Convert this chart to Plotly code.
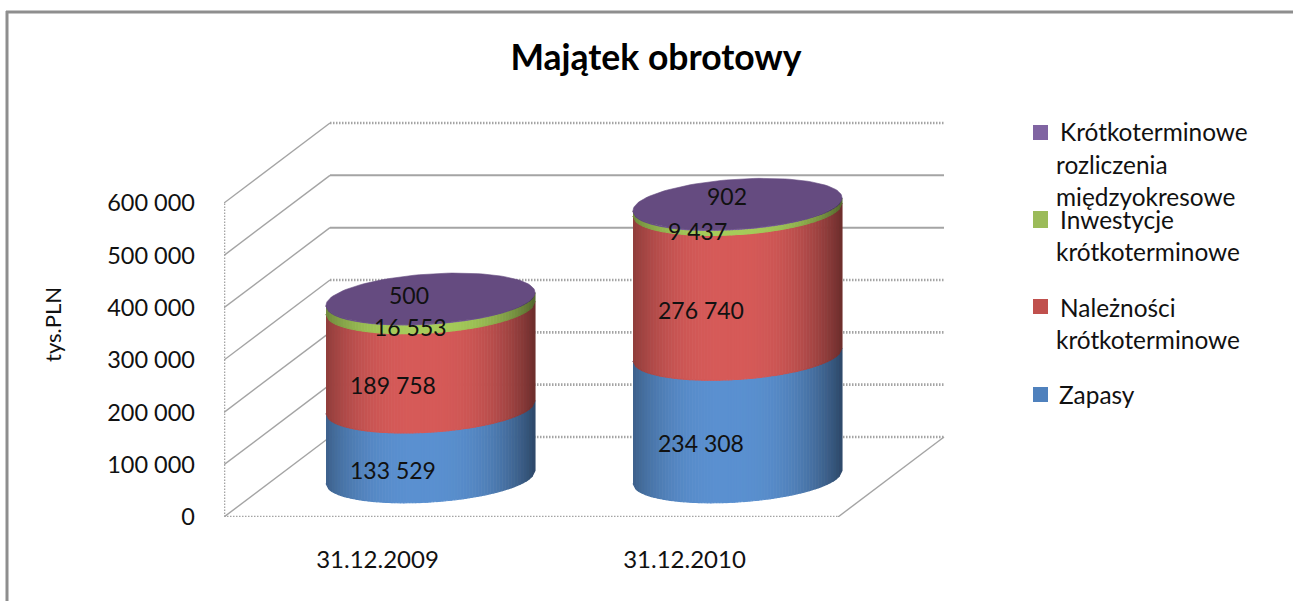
import math
import plotly.graph_objects as go

# ---- data ----
categories = ["31.12.2009", "31.12.2010"]
zapasy = [133529, 234308]
naleznosci = [189758, 276740]
inwestycje = [16553, 9437]
rozliczenia = [500, 902]
y_ticks = [0, 100000, 200000, 300000, 400000, 500000, 600000]
y_tick_labels = ["0", "100 000", "200 000", "300 000", "400 000", "500 000", "600 000"]
data_labels_2009 = ["133 529", "189 758", "16 553", "500"]
data_labels_2010 = ["234 308", "276 740", "9 437", "902"]

series = [zapasy, naleznosci, inwestycje, rozliczenia]
data_labels = [data_labels_2009, data_labels_2010]

# ---- style / layout ----
W, H = 1293, 601
L, R, T, B = 224, 946, 120, 517       # plot area in page pixels
PX_PER_CAT = 307.0
PX_PER_VAL = 52.33 / 100000.0
XMIN = -0.5
XMAX = XMIN + (R - L) / PX_PER_CAT
YMAX = (B - T) / PX_PER_VAL

DEPTH_X = 106 / PX_PER_CAT            # floor depth in axis units
DEPTH_Y = 80 / PX_PER_VAL
RAD_X = 104.5 / PX_PER_CAT            # cylinder radii
RAD_Y = 25 / PX_PER_VAL
SHEAR = 6.5 / PX_PER_VAL
N_STRIPS = 70

FONT = "Lato"
INK = "#111111"
BASE_COL = ["#5A90D0", "#D65A58", "#A6CC5A", "#7E5FA6"]
TOP_COL = "#654B80"
GRID = "#A4A4A4"
DOT = "1.5px,1.5px"


def shade(hex_col, u):
    f = 1 - 0.50 * min(1.0, abs(u + 0.08) / 1.08) ** 2.6
    r, g, b = (int(hex_col[i:i + 2], 16) for i in (1, 3, 5))
    return f"rgb({r * f:.0f},{g * f:.0f},{b * f:.0f})"


fig = go.Figure()


def line(xs, ys, width=1.5, dash="solid"):
    fig.add_trace(go.Scatter(x=xs, y=ys, mode="lines", hoverinfo="skip",
                             line=dict(color=GRID, width=width, dash=dash)))


xf_l, xf_r = XMIN, XMIN + 2          # front floor edge
for v in y_ticks:
    line([xf_l, xf_l + DEPTH_X], [v, v + DEPTH_Y], 1.4)           # side wall diagonal
    solid = v in (400000, 500000)
    line([xf_l + DEPTH_X, xf_r + DEPTH_X], [v + DEPTH_Y, v + DEPTH_Y],
         2 if solid else 2.6, "solid" if solid else DOT)          # back wall line
line([xf_l, xf_l], [y_ticks[0], y_ticks[-1]], 2.6, DOT)           # side wall front edge
line([xf_l, xf_r], [0, 0], 2.6, DOT)                              # floor front edge
line([xf_r, xf_r + DEPTH_X], [0, DEPTH_Y], 1.4)                   # floor right edge

# ---- cylinders ----
for c in range(len(categories)):
    cx = c + 0.5 * DEPTH_X
    base = 0.5 * DEPTH_Y
    cum = 0
    for s, vals in enumerate(series):
        v0, v1 = cum, cum + vals[c]
        cum = v1
        for i in range(N_STRIPS):
            ua = -1 + 2 * i / N_STRIPS
            ub = -1 + 2 * (i + 1) / N_STRIPS
            edge = lambda u, v: base + v + SHEAR * u - RAD_Y * math.sqrt(max(0, 1 - u * u))
            col = shade(BASE_COL[s], (ua + ub) / 2)
            fig.add_trace(go.Scatter(
                x=[cx + RAD_X * ua, cx + RAD_X * ub, cx + RAD_X * ub, cx + RAD_X * ua],
                y=[edge(ua, v0), edge(ub, v0), edge(ub, v1), edge(ua, v1)],
                mode="lines", fill="toself", fillcolor=col, hoverinfo="skip",
                line=dict(color=col, width=1.1)))
    ts = [2 * math.pi * k / 120 for k in range(121)]
    fig.add_trace(go.Scatter(
        x=[cx + RAD_X * math.cos(t) for t in ts],
        y=[base + cum + SHEAR * math.cos(t) + RAD_Y * math.sin(t) for t in ts],
        mode="lines", fill="toself", fillcolor=TOP_COL, hoverinfo="skip",
        line=dict(color=TOP_COL, width=0.6)))

# ---- data labels ----
annotations = []
label_shift = [
    [(-38, -28), (-38, -28), (-20, -24), (-22, 4)],
    [(-37, -27), (-37, -28), (-40, -24), (-11, 8)],
]
for c in range(len(categories)):
    cum = 0
    for s, vals in enumerate(series):
        mid = cum + vals[c] / 2
        cum += vals[c]
        dx, dy = label_shift[c][s]
        annotations.append(dict(
            x=c + 0.5 * DEPTH_X, y=0.5 * DEPTH_Y + mid, xref="x", yref="y",
            text=data_labels[c][s], showarrow=False, xshift=dx, yshift=dy,
            xanchor="center", yanchor="middle",
            font=dict(family=FONT, size=23, color=INK)))


def px(x):
    return (x - L) / (R - L)


def py(y):
    return (B - y) / (B - T)


# ---- legend ----
legend_lines = [
    ("Krótkoterminowe", 1058, 132), ("rozliczenia", 1054, 164), ("międzyokresowe", 1054, 196),
    ("Inwestycje", 1058, 219), ("krótkoterminowe", 1054, 251),
    ("Należności", 1058, 307), ("krótkoterminowe", 1054, 339),
    ("Zapasy", 1057, 395),
]
for txt, x, y in legend_lines:
    annotations.append(dict(x=px(x), y=py(y), xref="paper", yref="paper", text=txt,
                            showarrow=False, xanchor="left", yanchor="middle",
                            font=dict(family=FONT, size=24.4, color=INK)))
annotations.append(dict(x=px(52), y=py(325), xref="paper", yref="paper", text="tys.PLN",
                        textangle=-90, showarrow=False, xanchor="center", yanchor="middle",
                        font=dict(family=FONT, size=22, color=INK)))

shapes = []
for col, y0, y1 in [("#8064A2", 125, 140), ("#9BBB59", 211, 228),
                    ("#C0504D", 299, 314), ("#4F81BD", 387, 402)]:
    shapes.append(dict(type="rect", xref="paper", yref="paper", x0=px(1033), x1=px(1048),
                       y0=py(y1), y1=py(y0), fillcolor=col, line=dict(width=0), layer="above"))
shapes.append(dict(type="line", xref="paper", yref="paper", x0=px(7), x1=px(7), y0=py(11), y1=py(601),
                   line=dict(color="#8E8E8E", width=3)))
shapes.append(dict(type="line", xref="paper", yref="paper", x0=px(6), x1=px(1293), y0=py(12), y1=py(12),
                   line=dict(color="#8E8E8E", width=3)))

fig.update_layout(
    width=W, height=H,
    margin=dict(l=L, r=W - R, t=T, b=H - B, autoexpand=False),
    paper_bgcolor="#FFFFFF", plot_bgcolor="rgba(0,0,0,0)",
    showlegend=False,
    title=dict(text="<b>Majątek obrotowy</b>", x=656 / W, xref="container", xanchor="center",
               y=1 - 58 / H, yref="container", yanchor="middle",
               font=dict(family=FONT, size=35.5, color="#000000")),
    xaxis=dict(range=[XMIN, XMAX], tickmode="array", tickvals=list(range(len(categories))),
               ticktext=categories, showgrid=False, zeroline=False, showline=False,
               ticks="", ticklabelstandoff=26,
               tickfont=dict(family=FONT, size=24, color=INK)),
    yaxis=dict(range=[0, YMAX], tickmode="array", tickvals=y_ticks, ticktext=y_tick_labels,
               showgrid=False, zeroline=False, showline=False, ticks="", ticklabelstandoff=28,
               tickfont=dict(family=FONT, size=23.5, color=INK)),
    annotations=annotations, shapes=shapes,
)
fig.write_html("out.html", config={"displayModeBar": False},
               post_script="document.body.style.margin='0';document.documentElement.style.overflow='hidden';")
